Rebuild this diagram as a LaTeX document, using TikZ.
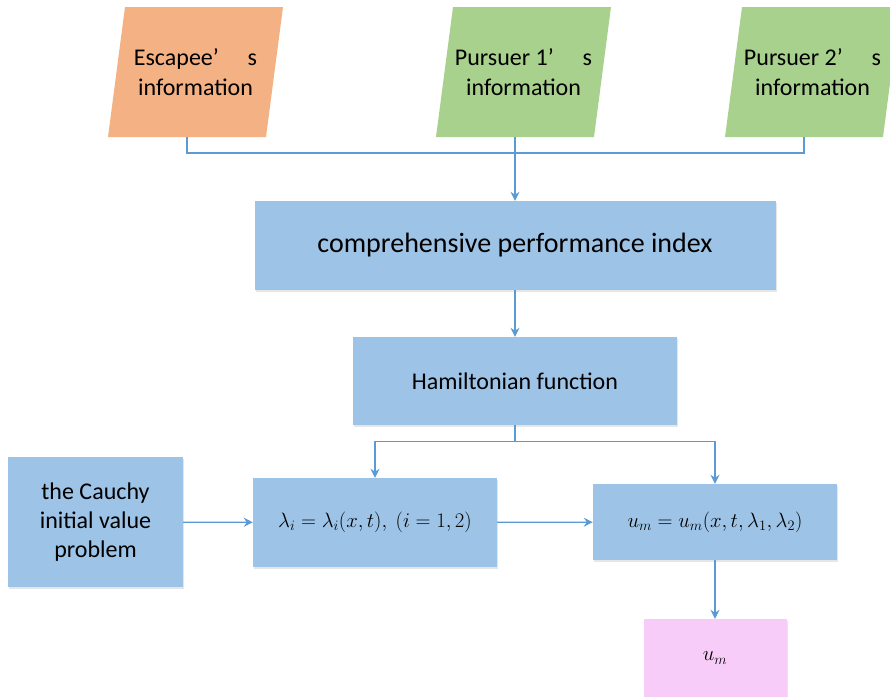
\documentclass[tikz,border=0pt]{standalone}
\usepackage{fontspec}
\setmainfont{Carlito}
\usepackage{tikz}
\usetikzlibrary{arrows.meta,shadows}
\definecolor{boxblue}{HTML}{9DC3E6}
\definecolor{lineblue}{HTML}{5B9BD5}
\definecolor{infoorange}{HTML}{F4B183}
\definecolor{infogreen}{HTML}{A9D18E}
\definecolor{outpink}{HTML}{F8CCF8}

\begin{document}
\begin{tikzpicture}[x=1pt, y=-1pt,
        info/.style={inner sep=0pt, align=center, font=\fontsize{24}{30}\selectfont},
        blk/.style={rectangle, fill=boxblue, inner sep=0pt, align=center,
            drop shadow={shadow xshift=1pt, shadow yshift=-1.5pt, opacity=0.2}},
        ln/.style={lineblue, line width=1.2pt},
        arr/.style={-{Stealth[length=9pt, width=9pt]}, lineblue, line width=1.2pt}]
        \useasboundingbox (0,0) rectangle (890,696);
        \clip (0,0) rectangle (890,696);
        % Information sources (parallelograms)
        \fill[infoorange] (108,137) -- (266,137) -- (283,7) -- (125,7) -- cycle;
        \fill[infogreen]  (436,137) -- (594,137) -- (611,7) -- (453,7) -- cycle;
        \fill[infogreen]  (725,137) -- (883,137) -- (900,7) -- (742,7) -- cycle;
        \node[info] (esc) at (195.5,72) {Escapee’\hspace{1.2em}s\\information};
        \node[info] (pu1) at (523.5,72) {Pursuer 1’\hspace{1.2em}s\\information};
        \node[info] (pu2) at (812.5,72) {Pursuer 2’\hspace{1.2em}s\\information};
        \coordinate (escb) at (187,137);
        \coordinate (pu1b) at (515,137);
        \coordinate (pu2b) at (804,137);
        % Process boxes
        \node[blk, minimum width=521pt, minimum height=89pt, font=\fontsize{28}{32}\selectfont] (cpi) at (515,245.5) {comprehensive performance index};
        \node[blk, minimum width=324pt, minimum height=88pt, font=\fontsize{24}{28}\selectfont] (ham) at (515,381) {Hamiltonian function};
        \node[blk, minimum width=175pt, minimum height=130pt, font=\fontsize{24}{29}\selectfont] (cau) at (95.5,522) {the Cauchy\\initial value\\problem};
        \node[blk, minimum width=244pt, minimum height=89pt, font=\fontsize{22}{24}\selectfont] (lam) at (375,522.5) {$\lambda_i=\lambda_i(x,t),\ (i=1,2)$};
        \node[blk, minimum width=244pt, minimum height=76pt, font=\fontsize{21}{24}\selectfont] (ueq) at (715,522) {$u_m=u_m(x,t,\lambda_1,\lambda_2)$};
        \node[blk, fill=outpink, minimum width=143pt, minimum height=78pt, font=\fontsize{22}{26}\selectfont] (out) at (715,658) {$u_m$};
        % Connectors
        \draw[ln] (escb) -- ++(0,16) -| (pu2b);
        \draw[arr] (pu1b) -- (cpi);
        \draw[arr] (cpi) -- (ham);
        \draw[arr] (ham.south) -- ++(0,16) -| (lam);
        \draw[arr] (ham.south) -- ++(0,16) -| (ueq);
        \draw[arr] (cau) -- (lam);
        \draw[arr] (lam) -- (ueq);
        \draw[arr] (ueq) -- (out);
    \end{tikzpicture}
\end{document}
